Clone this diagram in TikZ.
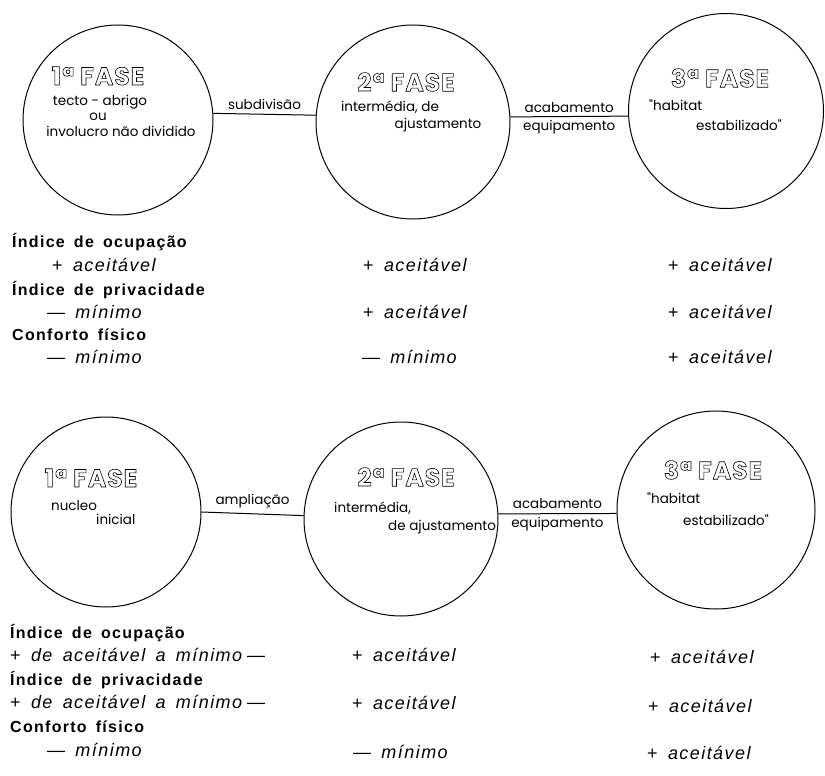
\documentclass[tikz,border=0pt]{standalone}
\usepackage{fontspec}
\setmainfont{Liberation Sans}
\newfontfamily\handfont{Poppins}
\newfontfamily\titlefont{Poppins}[LetterSpace=4]
\newfontfamily\tabfont{Liberation Sans}[LetterSpace=8,WordSpace=1.6]
% outlined lettering for the phase titles
\newcommand{\fasetitle}[1]{\special{pdf:literal direct 1 Tr 0.6 w}#1\special{pdf:literal direct 0 Tr}}
\newcommand{\mais}{{\upshape+}\ }
\newcommand{\menos}{—\ }

\tikzset{
  fase/.style={circle, draw, line width=1pt, inner sep=0pt},
  titulo/.style={font=\titlefont\bfseries\fontsize{25}{27}\selectfont},
  mao/.style={font=\handfont\fontsize{13.5}{15}\selectfont, inner sep=1pt},
  rotulo/.style={anchor=west, inner sep=0pt, font=\tabfont\bfseries\fontsize{16}{18}\selectfont},
  valor/.style={anchor=west, inner sep=0pt, font=\tabfont\itshape\fontsize{18}{20}\selectfont},
}

\begin{document}
\begin{tikzpicture}[x=1pt, y=-1pt]
    \useasboundingbox (0,0) rectangle (825,776);
    % first scheme: phases
    \node[fase, minimum size=190] (a1) at (118,120) {};
    \node[fase, minimum size=194] (a2) at (413,122) {};
    \node[fase, minimum size=195] (a3) at (726,111) {};
    \node[titulo] (a1t) at (98,76) {\fasetitle{1ª FASE}};
    \node[mao] (a1l1) at (100,102) {tecto - abrigo};
    \node[mao] (a1l2) at (98,117) {ou};
    \node[mao] (a1l3) at (121,131) {involucro não dividido};
    \node[titulo] (a2t) at (406,82) {\fasetitle{2ª FASE}};
    \node[mao] (a2l1) at (390,107) {intermédia, de};
    \node[mao] (a2l2) at (438,125) {ajustamento};
    \node[titulo] (a3t) at (720,78) {\fasetitle{3ª FASE}};
    \node[mao, anchor=west] (a3l1) at (648,105) {"habitat};
    \node[mao, anchor=west] (a3l2) at (695,125) {estabilizado"};
    % links
    \draw[line width=1pt] (a1.4) -- (a2.176.5) node[mao, midway, above=3pt] (sub) {subdivisão};
    \draw[line width=1pt] (a2.3.5) -- (a3.183.5)
        node[mao, midway, above=2pt] (aca1) {acabamento}
        node[mao, midway, below=2pt] (equ1) {equipamento};
    % first scheme: indices
    \node[rotulo] (ocup1) at (12,242) {Índice de ocupação};
    \node[valor] (ocup1a) at (52,265) {\mais aceitável};
    \node[valor] (ocup1b) at (363,265) {\mais aceitável};
    \node[valor] (ocup1c) at (668,265) {\mais aceitável};
    \node[rotulo] (priv1) at (12,290) {Índice de privacidade};
    \node[valor] (priv1a) at (47,312) {\menos mínimo};
    \node[valor] (priv1b) at (363,312) {\mais aceitável};
    \node[valor] (priv1c) at (668,312) {\mais aceitável};
    \node[rotulo] (conf1) at (12,335) {Conforto físico};
    \node[valor] (conf1a) at (47,357) {\menos mínimo};
    \node[valor] (conf1b) at (362,357) {\menos mínimo};
    \node[valor] (conf1c) at (668,357) {\mais aceitável};
    % second scheme: phases
    \node[fase, minimum size=190] (b1) at (106,512) {};
    \node[fase, minimum size=194] (b2) at (401,519) {};
    \node[fase, minimum size=198] (b3) at (716,510) {};
    \node[titulo] (b1t) at (91,478) {\fasetitle{1ª FASE}};
    \node[mao, anchor=west] (b1l1) at (50,506) {nucleo};
    \node[mao, anchor=west] (b1l2) at (95,519) {inicial};
    \node[titulo] (b2t) at (406,477) {\fasetitle{2ª FASE}};
    \node[mao, anchor=west] (b2l1) at (333,508) {intermédia,};
    \node[mao, anchor=west] (b2l2) at (387,527) {de ajustamento};
    \node[titulo] (b3t) at (713,470) {\fasetitle{3ª FASE}};
    \node[mao, anchor=west] (b3l1) at (646,498) {"habitat};
    \node[mao, anchor=west] (b3l2) at (682,520) {estabilizado"};
    % links
    \draw[line width=1pt] (b1.0) -- (b2.178) node[mao, midway, above=4pt] (amp) {ampliação};
    \draw[line width=1pt] (b2.3) -- (b3.182)
        node[mao, midway, above=4pt] (aca2) {acabamento}
        node[mao, midway, below=2pt] (equ2) {equipamento};
    % second scheme: indices
    \node[rotulo] (ocup2) at (10,633) {Índice de ocupação};
    \node[valor] (ocup2a) at (10,655) {\mais de aceitável a mínimo\hspace{5pt}—};
    \node[valor] (ocup2b) at (352,655) {\mais aceitável};
    \node[valor] (ocup2c) at (650,657) {\mais aceitável};
    \node[rotulo] (priv2) at (10,680) {Índice de privacidade};
    \node[valor] (priv2a) at (10,702) {\mais de aceitável a mínimo\hspace{5pt}—};
    \node[valor] (priv2b) at (352,703) {\mais aceitável};
    \node[valor] (priv2c) at (648,706) {\mais aceitável};
    \node[rotulo] (conf2) at (10,727) {Conforto físico};
    \node[valor] (conf2a) at (47,750) {\menos mínimo};
    \node[valor] (conf2b) at (353,752) {\menos mínimo};
    \node[valor] (conf2c) at (647,753) {\mais aceitável};
\end{tikzpicture}
\end{document}
